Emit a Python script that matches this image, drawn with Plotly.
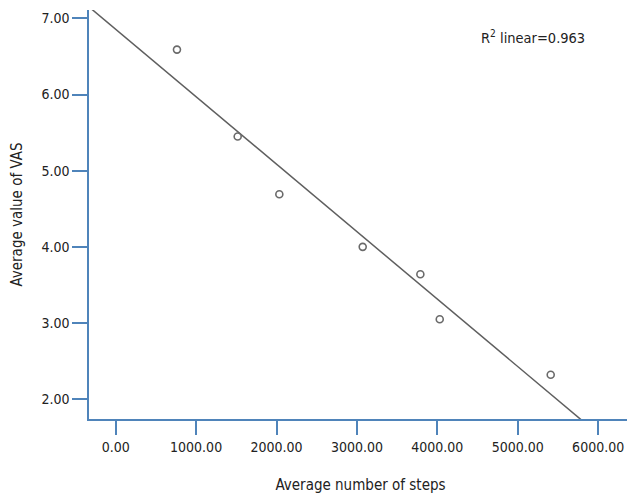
import numpy as np
import plotly.graph_objects as go

steps = [762, 1517, 2035, 3072, 3789, 4030, 5410]
vas = [6.59, 5.45, 4.69, 4.00, 3.64, 3.05, 2.32]
x_range = [-332, 6421]
y_range = [1.74, 7.11]
r2_label = "R<sup>2</sup> linear=0.963"

slope, intercept = np.polyfit(steps, vas, 1)
fit_x = list(x_range)
fit_y = [slope * v + intercept for v in fit_x]

FONT = "DejaVu Sans Condensed, Liberation Sans Narrow, Arial Narrow, sans-serif"
AXC = "#4f84ba"

fig = go.Figure()
fig.add_trace(go.Scatter(x=fit_x, y=fit_y, mode="lines",
                         line=dict(color="#5f5f5f", width=1.5), showlegend=False))
fig.add_trace(go.Scatter(x=steps, y=vas, mode="markers",
                         marker=dict(symbol="circle-open", size=7, color="#6a6a6a",
                                     line=dict(width=1.6, color="#6a6a6a")),
                         showlegend=False))

# page body has an 8px margin, so the figure is sized to fill the rest of the window
fig.update_layout(
    width=627, height=488,
    margin=dict(l=81, r=3, t=2, b=77),
    plot_bgcolor="white", paper_bgcolor="white",
    font=dict(family=FONT, size=14, color="#222222"),
    xaxis=dict(range=x_range, dtick=1000, tick0=0, tickformat=".2f", automargin=False,
               showgrid=False, zeroline=False, showline=True, linecolor=AXC,
               linewidth=1.5, ticks="outside", ticklen=14, tickcolor=AXC, tickwidth=1.5,
               title=dict(text="Average number of steps", standoff=26,
                          font=dict(family=FONT, size=15))),
    yaxis=dict(range=y_range, dtick=1, tick0=0, tickformat=".2f", automargin=False,
               showgrid=False, zeroline=False, showline=True, linecolor=AXC,
               linewidth=1.5, ticks="outside", ticklen=15, tickcolor=AXC, tickwidth=1.5,
               title=dict(text="Average value of VAS", standoff=20,
                          font=dict(family=FONT, size=15))),
    annotations=[dict(text=r2_label, xref="paper", yref="paper", x=0.818, y=0.934,
                      xanchor="center", yanchor="middle",
                      showarrow=False, font=dict(family=FONT, size=14.5, color="#222222"))],
)

fig.write_html("out.html")
